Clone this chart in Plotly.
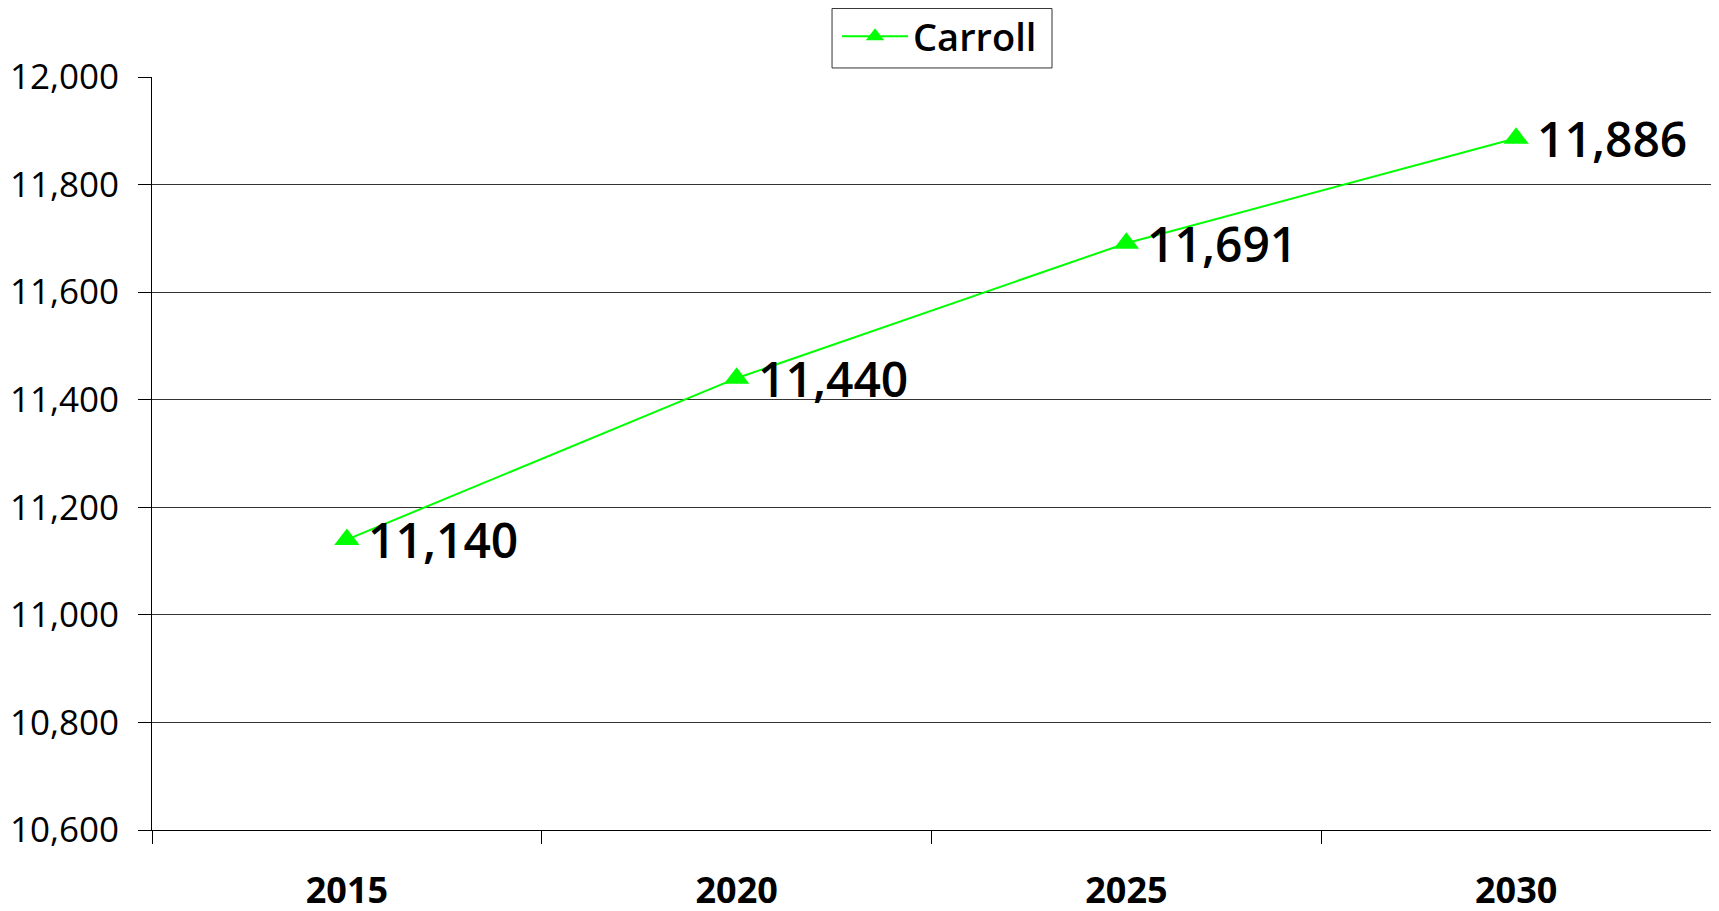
import plotly.graph_objects as go

years = ["2015", "2020", "2025", "2030"]
carroll = [11140, 11440, 11691, 11886]
y_ticks = [10600, 10800, 11000, 11200, 11400, 11600, 11800, 12000]
y_tick_text = ["10,600", "10,800", "11,000", "11,200", "11,400", "11,600", "11,800", "12,000"]

fig = go.Figure()
fig.add_trace(go.Scatter(
    x=years, y=carroll, name="Carroll",
    mode="lines+markers",
    line=dict(color="#00ff00", width=2),
    marker=dict(symbol="triangle-up", size=22, color="#00ff00"),
    cliponaxis=False,
))

# data labels (x given as category index on the category axis)
for i, v in enumerate(carroll):
    fig.add_annotation(
        x=i, y=v, xref="x", yref="y", text=f"{v:,}", showarrow=False,
        xanchor="left", yanchor="middle", xshift=19, yshift=0,
        font=dict(family="Open Sans", size=48, color="black", weight=600),
    )

# legend frame
fig.add_shape(type="rect", xref="paper", yref="paper",
              x0=0.4362, x1=0.5773, y0=1.012, y1=1.0910,
              line=dict(color="#333", width=1), fillcolor="rgba(0,0,0,0)", layer="above")

fig.update_layout(
    width=1719, height=911,
    margin=dict(l=144, r=16, t=69, b=89, autoexpand=False),
    paper_bgcolor="white", plot_bgcolor="white",
    font=dict(family="Open Sans", color="black"),
    showlegend=True,
    legend=dict(
        x=0.4394, xanchor="left", y=1.0956, yanchor="top",
        bgcolor="rgba(0,0,0,0)", borderwidth=0,
        font=dict(family="Open Sans", size=38, color="black", weight=600),
        itemwidth=66,
    ),
    xaxis=dict(
        type="category", automargin=False,
        tickson="boundaries",
        ticks="outside", ticklen=13, tickcolor="black", tickwidth=1,
        showline=True, linecolor="black", linewidth=1, mirror=False,
        showgrid=False,
        tickfont=dict(family="Open Sans", size=36, color="black", weight="bold"),
        ticklabelstandoff=29,
        range=[-0.5, 3.5],
    ),
    yaxis=dict(
        range=[10600, 12000], automargin=False,
        tickvals=y_ticks, ticktext=y_tick_text,
        ticks="outside", ticklen=13, tickcolor="black", tickwidth=1,
        showline=True, linecolor="black", linewidth=1, mirror=True,
        showgrid=True, gridcolor="#333", gridwidth=1,
        zeroline=False,
        tickfont=dict(family="Open Sans", size=35, color="black"),
        ticklabelstandoff=12,
    ),
)

fig.write_html("out.html")
